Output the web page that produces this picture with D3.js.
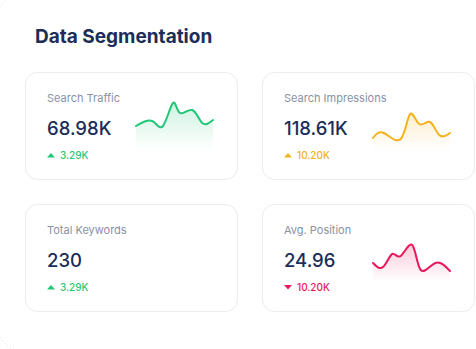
<!DOCTYPE html>
<html>
<head>
<meta charset="utf-8">
<script src="https://cdn.jsdelivr.net/npm/d3@7"></script>
<style>
  html, body { margin: 0; padding: 0; background: #fff; }
  svg { display: block; font-family: Inter, "Noto Sans", sans-serif; }
</style>
</head>
<body>
<div id="chart"></div>
<script>
// Data Segmentation — four KPI tiles, three with sparklines
const titles  = ["Search Traffic", "Search Impressions", "Total Keywords", "Avg. Position"];
const values  = ["68.98K", "118.61K", "230", "24.96"];
const deltas  = ["3.29K", "10.20K", "3.29K", "10.20K"];
const trend   = ["up", "up", "up", "down"];
const colors  = ["#1fc777", "#f4b21c", "#1fc777", "#e8185a"];

// sparkline samples: [t, value], value on a 0–10 scale
const sparkTraffic = [[0, 4.0], [0.21, 5.25], [0.35, 4.0], [0.48, 9.75], [0.57, 7.25], [0.73, 8.0], [0.86, 4.75], [1, 5.5]];
const sparkImpr    = [[0, 1.0], [0.14, 2.25], [0.36, 0.75], [0.48, 7.0], [0.60, 4.5], [0.74, 5.0], [0.86, 1.75], [1, 2.25]];
const sparkPos     = [[0, 2.75], [0.13, 1.75], [0.25, 5.0], [0.36, 4.5], [0.51, 7.25], [0.62, 1.0], [0.81, 2.75], [1, 0.75]];
const sparks = [sparkTraffic, sparkImpr, null, sparkPos];

const W = 476, H = 349;
const svg = d3.select("#chart").append("svg")
  .attr("width", W).attr("height", H);

const defs = svg.append("defs");

// outer panel, only its left corners show
svg.append("rect")
  .attr("x", -4).attr("y", -8).attr("width", 520).attr("height", 360)
  .attr("rx", 30)
  .attr("fill", "#fff").attr("stroke", "#d8d9e0").attr("stroke-width", 1)
  .attr("stroke-dasharray", "1 2.5");

svg.append("text")
  .attr("x", 35).attr("y", 43)
  .attr("fill", "#1b2d58").attr("font-size", "19px").attr("font-weight", 700)
  .text("Data Segmentation");

const cardW = 212, cardH = 107;
const cols = [25, 262], rows = [72, 204];

const x = d3.scaleLinear().domain([0, 1]).range([111, 188]);
const y = d3.scaleLinear().domain([0, 10]).range([70, 30]);

const curve = d3.curveNatural;
const line = d3.line().x(d => x(d[0])).y(d => y(d[1])).curve(curve);
const area = d3.area().x(d => x(d[0])).y0(y(-2)).y1(d => y(d[1])).curve(curve);

titles.forEach((t, i) => {
  const cx = cols[i % 2], cy = rows[Math.floor(i / 2)];
  const g = svg.append("g").attr("transform", `translate(${cx},${cy})`);

  g.append("rect")
    .attr("x", 0.5).attr("y", 0.5).attr("width", cardW).attr("height", cardH)
    .attr("rx", 12)
    .attr("fill", "#fff").attr("stroke", "#ececf0");

  g.append("text")
    .attr("x", 22).attr("y", 30)
    .attr("fill", "#8891a5").attr("font-size", "11px")
    .text(t);

  g.append("text")
    .attr("x", 22).attr("y", 63)
    .attr("fill", "#1b2d58").attr("font-size", "18.5px").attr("font-weight", 500)
    .text(values[i]);

  // delta arrow + amount
  const up = trend[i] === "up";
  const ty = 83;
  g.append("path")
    .attr("d", up
      ? `M22,${ty + 2.5} L26,${ty - 2} L30,${ty + 2.5} Z`
      : `M22,${ty - 2} L26,${ty + 2.5} L30,${ty - 2} Z`)
    .attr("fill", colors[i]);
  g.append("text")
    .attr("x", 35).attr("y", ty + 4)
    .attr("fill", colors[i]).attr("font-size", "10px").attr("font-weight", 500)
    .text(deltas[i]);

  const s = sparks[i];
  if (!s) return;

  const gid = "fade" + i;
  const grad = defs.append("linearGradient").attr("id", gid)
    .attr("x1", 0).attr("x2", 0).attr("y1", 0).attr("y2", 1);
  grad.append("stop").attr("offset", "0%").attr("stop-color", colors[i]).attr("stop-opacity", 0.22);
  grad.append("stop").attr("offset", "100%").attr("stop-color", colors[i]).attr("stop-opacity", 0);

  g.append("path").datum(s)
    .attr("d", area).attr("fill", `url(#${gid})`);
  g.append("path").datum(s)
    .attr("d", line).attr("fill", "none")
    .attr("stroke", colors[i]).attr("stroke-width", 2)
    .attr("stroke-linecap", "round");
});
</script>
</body>
</html>
